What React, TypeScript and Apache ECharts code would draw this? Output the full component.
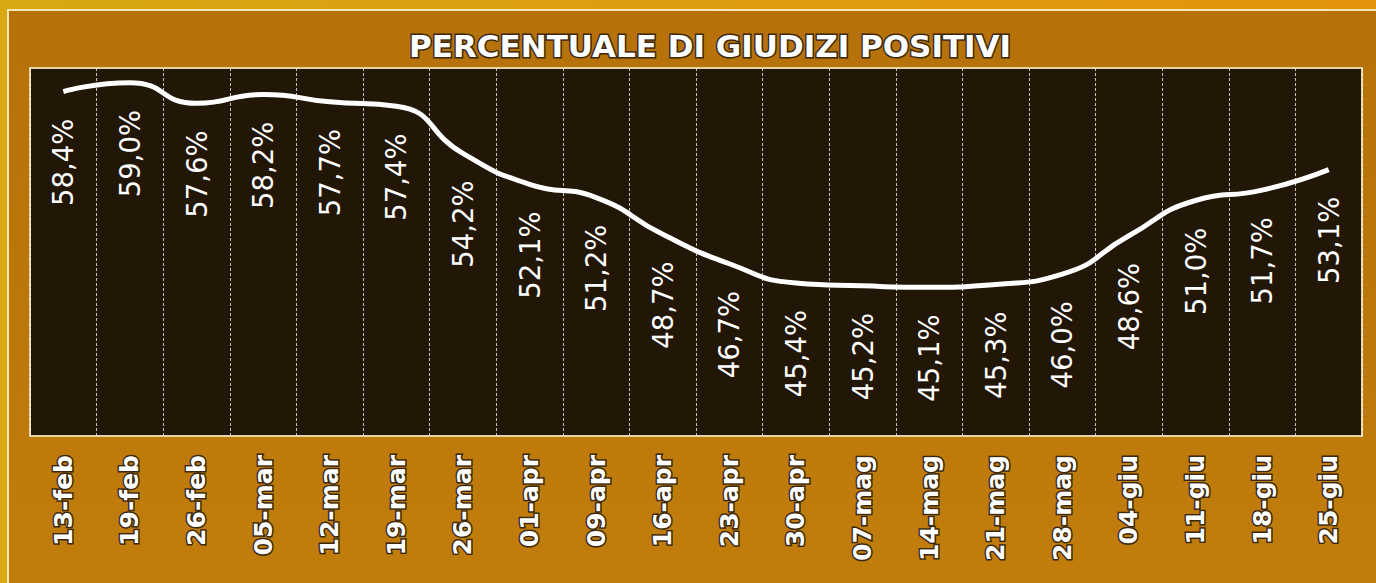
import React, { useEffect, useRef } from "react";
import * as echarts from "echarts";

const categories = [
  "13-feb", "19-feb", "26-feb", "05-mar", "12-mar", "19-mar", "26-mar",
  "01-apr", "09-apr", "16-apr", "23-apr", "30-apr", "07-mag", "14-mag",
  "21-mag", "28-mag", "04-giu", "11-giu", "18-giu", "25-giu",
];
const positivi = [
  58.4, 59.0, 57.6, 58.2, 57.7, 57.4, 54.2, 52.1, 51.2, 48.7,
  46.7, 45.4, 45.2, 45.1, 45.3, 46.0, 48.6, 51.0, 51.7, 53.1,
];
const titleText = "PERCENTUALE DI GIUDIZI POSITIVI";

export default function App() {
  const ref = useRef<HTMLDivElement>(null);
  useEffect(() => {
    document.body.style.margin = "0";
    if (!ref.current) return;
    const chart = echarts.init(ref.current, null, { renderer: "svg" });
    chart.setOption({
      animation: false,
      backgroundColor: {
        type: "linear", x: 0, y: 0, x2: 1, y2: 0,
        colorStops: [
          { offset: 0, color: "#D8A814" },
          { offset: 1, color: "#E2930E" },
        ],
      },
      graphic: [
        {
          type: "rect",
          z: -10,
          silent: true,
          shape: { x: 8, y: 10, width: 1380, height: 600 },
          style: {
            fill: {
              type: "linear", x: 0, y: 0, x2: 0, y2: 1,
              colorStops: [
                { offset: 0, color: "#B6710A" },
                { offset: 1, color: "#C17E0C" },
              ],
            },
            stroke: "#F6E6B0",
            lineWidth: 2,
          },
        },
      ],
      title: {
        text: titleText,
        left: 404,
        top: 25,
        textStyle: {
          color: "#FFFFFF",
          fontFamily: "DejaVu Sans",
          fontWeight: "bold",
          fontSize: 31,
          textBorderColor: "#3A2810",
          textBorderWidth: 3,
        },
      },
      grid: {
        left: 30,
        right: 14,
        top: 68,
        bottom: 147,
        show: true,
        backgroundColor: "#221606",
        borderColor: "#E6D3A6",
        borderWidth: 2,
      },
      xAxis: {
        type: "category",
        data: categories,
        boundaryGap: true,
        axisLine: { show: false },
        axisTick: { show: false },
        splitLine: {
          show: true,
          interval: 0,
          lineStyle: { color: "rgba(255,255,255,0.75)", width: 1, type: [3, 2] },
        },
        axisLabel: {
          interval: 0,
          rotate: 90,
          margin: 19,
          color: "#FFFFFF",
          fontFamily: "DejaVu Sans",
          fontWeight: "bold",
          fontSize: 25,
          textBorderColor: "#3A2810",
          textBorderWidth: 3,
        },
      },
      yAxis: {
        type: "value",
        min: 35,
        max: 60,
        show: false,
        splitLine: { show: false },
      },
      series: [
        {
          type: "line",
          data: positivi,
          smooth: 0.55,
          symbol: "circle",
          symbolSize: 0.1,
          showSymbol: true,
          itemStyle: { color: "#FFFFFF" },
          lineStyle: { color: "#FFFFFF", width: 5 },
          label: {
            show: true,
            position: "bottom",
            distance: 27,
            rotate: 90,
            align: "right",
            verticalAlign: "middle",
            color: "#FFFFFF",
            fontFamily: "DejaVu Sans",
            fontSize: 27.5,
            formatter: (p: any) => p.value.toFixed(1).replace(".", ",") + "%",
          },
        },
      ],
    });
    return () => chart.dispose();
  }, []);
  return <div ref={ref} style={{ width: 1376, height: 583 }} />;
}
